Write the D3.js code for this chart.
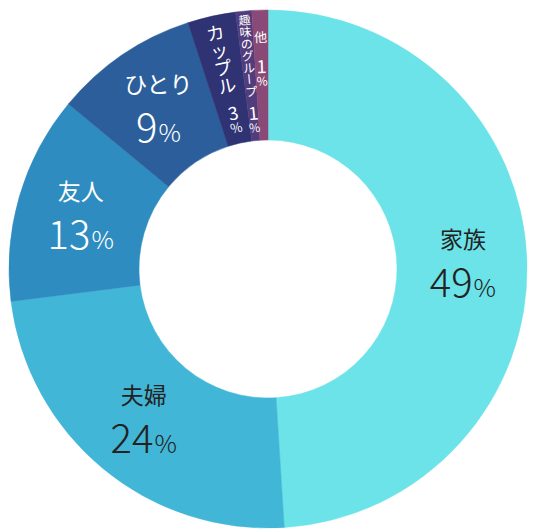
<!DOCTYPE html>
<meta charset="utf-8">
<style>
  body { margin: 0; background: #fff; }
  svg text { font-family: "Noto Sans CJK JP", "Noto Sans", sans-serif; }
</style>
<body>
<script src="https://cdn.jsdelivr.net/npm/d3@7/dist/d3.min.js"></script>
<script>
// data
const categories = ['家族', '夫婦', '友人', 'ひとり', 'カップル', '趣味のグループ', '他'];
const values = [49, 24, 13, 9, 3, 1, 1];
const colors = ['#6be3e8', '#42b6d6', '#2e8cc0', '#2b5e9b', '#2f3273', '#523c7c', '#8a4a78'];
const textColors = ['#222', '#222', '#fff', '#fff', '#fff', '#fff', '#fff'];

// vertical labels for the thin slices: start radius, char size, gap before number
const smallLabels = {
  'カップル': { start: 252, size: 18, gap: 10, num: 18, pct: 13 },
  '趣味のグループ': { start: 257, size: 12, gap: 6, num: 18, pct: 12 },
  '他': { start: 239, size: 13, gap: 13, num: 18, pct: 12 }
};

const width = 534, height = 532;
const cx = 268, cy = 269, outerR = 259, innerR = 129, labelR = 195;

const svg = d3.select('body').append('svg')
    .attr('width', width)
    .attr('height', height);

const g = svg.append('g').attr('transform', `translate(${cx},${cy})`);

const pie = d3.pie().sort(null).value(d => d.value);
const arcs = pie(categories.map((c, i) => ({ name: c, value: values[i], i })));

const arc = d3.arc().innerRadius(innerR).outerRadius(outerR);
const labelArc = d3.arc().innerRadius(labelR).outerRadius(labelR);

g.selectAll('path.slice')
  .data(arcs)
  .enter().append('path')
    .attr('class', 'slice')
    .attr('d', arc)
    .attr('fill', d => colors[d.data.i])
    .attr('stroke', d => colors[d.data.i])
    .attr('stroke-width', 0.5);

// big labels: name over percentage
const big = arcs.filter(d => !smallLabels[d.data.name]);
const bl = g.selectAll('g.big')
  .data(big)
  .enter().append('g')
    .attr('class', 'big')
    .attr('transform', d => `translate(${labelArc.centroid(d)})`)
    .attr('fill', d => textColors[d.data.i]);

bl.append('text')
    .attr('text-anchor', 'middle')
    .attr('y', -15)
    .style('font-size', '23px')
    .text(d => d.data.name);

const pt = bl.append('text')
    .attr('text-anchor', 'middle')
    .attr('y', 34)
    .style('font-weight', 300);
pt.append('tspan').style('font-size', '40px').text(d => d.data.value);
pt.append('tspan').style('font-size', '25px').attr('dx', 1).text('%');

// small labels: one character at a time along the radius
arcs.filter(d => smallLabels[d.data.name]).forEach(d => {
  const cfg = smallLabels[d.data.name];
  const mid = (d.startAngle + d.endAngle) / 2;
  const deg = mid * 180 / Math.PI;
  const chars = [];
  let cursor = cfg.start;
  Array.from(d.data.name).forEach(ch => {
    chars.push({ ch, r: cursor - cfg.size / 2, size: cfg.size, rot: ch === 'ー' ? 90 : 0 });
    cursor -= cfg.size;
  });
  cursor -= cfg.gap;
  chars.push({ ch: String(d.data.value), r: cursor - cfg.num / 2, size: cfg.num, rot: 0 });
  cursor -= cfg.num;
  chars.push({ ch: '%', r: cursor - cfg.pct / 2, size: cfg.pct, rot: 0 });

  g.selectAll(null)
    .data(chars)
    .enter().append('text')
      .attr('transform', c => {
        const x = c.r * Math.sin(mid), y = -c.r * Math.cos(mid);
        return `translate(${x},${y}) rotate(${deg + c.rot})`;
      })
      .attr('text-anchor', 'middle')
      .attr('dominant-baseline', 'central')
      .attr('fill', textColors[d.data.i])
      .style('font-size', c => c.size + 'px')
      .text(c => c.ch);
});
</script>
</body>
